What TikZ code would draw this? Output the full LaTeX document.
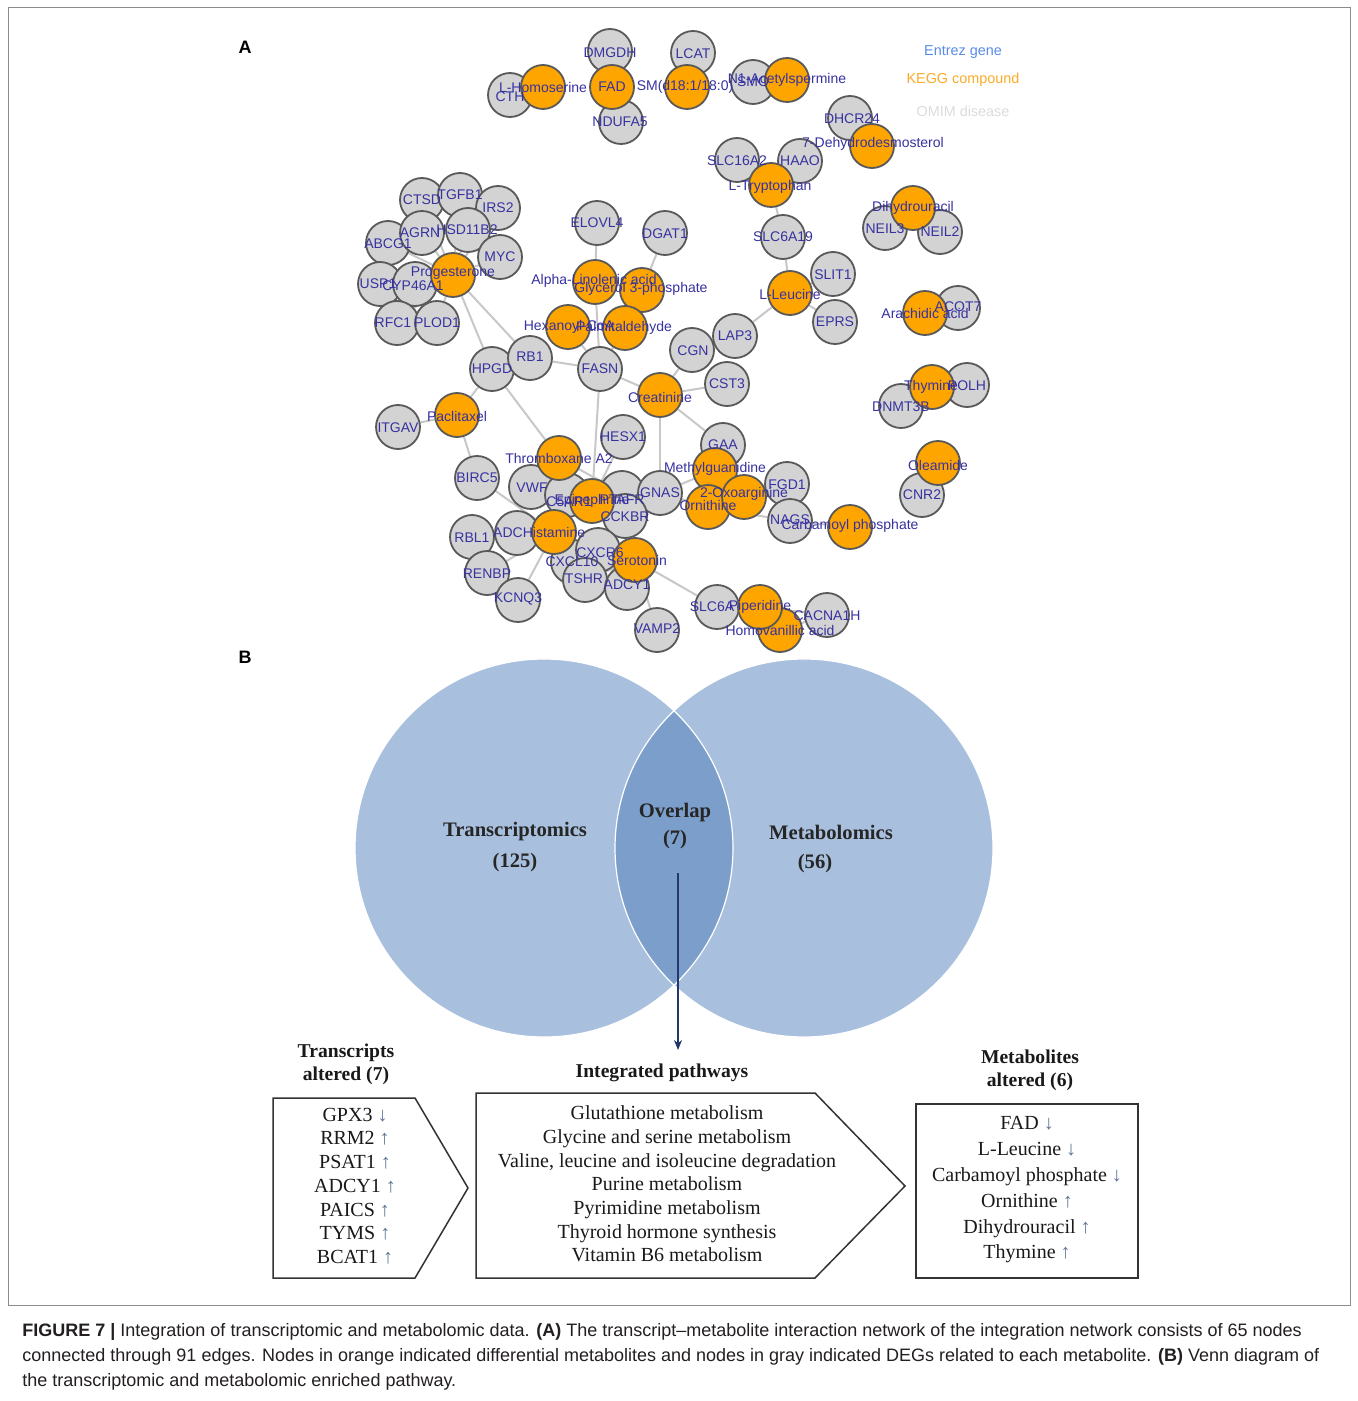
\documentclass[tikz,border=0pt]{standalone}
\usepackage{fontspec}
\setmainfont{Liberation Serif}
\newfontfamily\arialf{Liberation Sans}
\usetikzlibrary{arrows.meta,backgrounds}
\definecolor{lblc}{RGB}{55,50,160}
\definecolor{orangec}{RGB}{255,165,0}
\definecolor{grayc}{RGB}{211,211,211}
\definecolor{edgec}{RGB}{200,200,200}
\definecolor{vennc}{RGB}{168,192,222}
\definecolor{vennov}{RGB}{123,158,202}
\definecolor{arrowc}{RGB}{35,55,110}
\definecolor{arrc}{RGB}{95,115,150}
\definecolor{capc}{RGB}{35,31,32}
\definecolor{legblue}{RGB}{90,140,230}
\definecolor{legorange}{RGB}{250,172,40}
\definecolor{leggray}{RGB}{220,220,220}
\newcommand\upa{{\color{arrc}↑}}
\newcommand\dna{{\color{arrc}↓}}
\begin{document}
\begin{tikzpicture}[x=0.5pt,y=-0.5pt,
 gn/.style={circle,draw=black!65,fill=grayc,line width=0.9pt,minimum size=22pt,inner sep=0pt},
 on/.style={gn,fill=orangec},
 lbl/.style={font=\arialf\fontsize{7}{8}\selectfont,text=lblc,inner sep=0pt},
 edge/.style={draw=edgec,line width=1pt},
 vt/.style={font=\bfseries\fontsize{10.3}{12}\selectfont,text=black!85,inner sep=0pt},
 hd/.style={font=\bfseries\fontsize{9.8}{11.6}\selectfont,text=black!90,align=center,inner sep=0pt},
 bx/.style={draw=black!80,line width=0.75pt},
 lt/.style={font=\fontsize{10}{11.85}\selectfont,text=black!90,align=center,inner sep=0pt},
 captext/.style={font=\arialf\fontsize{9}{11}\selectfont,text=capc,anchor=west,inner sep=0pt},
 lg/.style={font=\arialf\fontsize{7.2}{8}\selectfont,inner sep=0pt},
 pl/.style={font=\arialf\bfseries\fontsize{9}{10}\selectfont,inner sep=0pt}
]
\useasboundingbox (0,0) rectangle (1358,1401);
\begin{scope}[on background layer]
\fill[white] (0,0) rectangle (1358,1401);
\end{scope}
% frame
\draw[black!45,line width=0.5pt] (8,8) rectangle (1350,1305);
\node[pl] (pa) at (245,47) {A};
\node[pl] (pb) at (245,657) {B};
% legend
\node[lg,text=legblue] (lg1) at (963,52) {Entrez gene};
\node[lg,text=legorange] (lg2) at (963,80) {KEGG compound};
\node[lg,text=leggray] (lg3) at (963,111) {OMIM disease};
% ---------- gray nodes ----------
\node[gn] (cth) at (510,95) {};
\node[gn] (dmgdh) at (610,51) {};
\node[gn] (ndufa5) at (621,122) {};
\node[gn] (lcat) at (693,53) {};
\node[gn] (smo) at (753,82) {};
\node[gn] (dhcr) at (850,118) {};
\node[gn] (slc16) at (737,160) {};
\node[gn] (haao) at (800,161) {};
\node[gn] (slc6a19) at (783,237) {};
\node[gn] (slit1) at (833,274) {};
\node[gn] (eprs) at (835,322) {};
\node[gn] (lap3) at (735,336) {};
\node[gn] (neil3) at (885,228) {};
\node[gn] (neil2) at (940,232) {};
\node[gn] (acot7) at (958,308) {};
\node[gn] (cgn) at (692,350) {};
\node[gn] (cst3) at (727,384) {};
\node[gn] (polh) at (967,385) {};
\node[gn] (dnmt) at (901,406) {};
\node[gn] (gaa) at (723,445) {};
\node[gn] (fgd1) at (787,484) {};
\node[gn] (nags) at (790,521) {};
\node[gn] (cnr2) at (922,495) {};
\node[gn] (ctsd) at (422,200) {};
\node[gn] (tgfb1) at (460,195) {};
\node[gn] (irs2) at (498,208) {};
\node[gn] (abcg1) at (388,243) {};
\node[gn] (agrn) at (422,233) {};
\node[gn] (hsd) at (468,230) {};
\node[gn] (myc) at (500,257) {};
\node[gn] (usp1) at (380,284) {};
\node[gn] (cyp) at (415,284) {};
\node[gn] (rfc1) at (397,323) {};
\node[gn] (plod1) at (437,323) {};
\node[gn] (elovl4) at (597,223) {};
\node[gn] (dgat1) at (665,233) {};
\node[gn] (hpgd) at (492,369) {};
\node[gn] (rb1) at (530,358) {};
\node[gn] (fasn) at (600,369) {};
\node[gn] (itgav) at (398,427) {};
\node[gn] (hesx1) at (623,437) {};
\node[gn] (birc5) at (477,478) {};
\node[gn] (vwf) at (531,487) {};
\node[gn] (c5ar1) at (567,495) {};
\node[gn] (ptafr) at (622,493) {};
\node[gn] (gnas) at (660,493) {};
\node[gn] (cckbr) at (625,516) {};
\node[gn] (adc) at (517,533) {};
\node[gn] (rbl1) at (472,537) {};
\node[gn] (renbp) at (487,573) {};
\node[gn] (kcnq3) at (518,600) {};
\node[gn] (cxcl10) at (573,562) {};
\node[gn] (cxcr6) at (598,550) {};
\node[gn] (tshr) at (585,580) {};
\node[gn] (adcy1) at (627,588) {};
\node[gn] (vamp2) at (657,630) {};
\node[gn] (slc6a) at (717,607) {};
\node[gn] (cacna) at (827,615) {};
% ---------- orange nodes ----------
\node[on] (lhom) at (543,87) {};
\node[on] (fad) at (612,87) {};
\node[on] (sm) at (687,87) {};
\node[on] (n1) at (787,80) {};
\node[on] (dhd) at (872,146) {};
\node[on] (trp) at (771,185) {};
\node[on] (dihyd) at (913,208) {};
\node[on] (prog) at (453,275) {};
\node[on] (glyc) at (642,290) {};
\node[on] (alpha) at (595,282) {};
\node[on] (leu) at (790,293) {};
\node[on] (arach) at (925,313) {};
\node[on] (hex) at (568,327) {};
\node[on] (palm) at (625,328) {};
\node[on] (creat) at (660,395) {};
\node[on] (thym) at (932,387) {};
\node[on] (pacl) at (457,415) {};
\node[on] (thromb) at (559,458) {};
\node[on] (olea) at (938,463) {};
\node[on] (mgu) at (715,470) {};
\node[on] (orn) at (708,507) {};
\node[on] (oxo) at (744,497) {};
\node[on] (epi) at (592,501) {};
\node[on] (hist) at (554,532) {};
\node[on] (carb) at (850,527) {};
\node[on] (sero) at (635,560) {};
\node[on] (hva) at (780,630) {};
\node[on] (pip) at (760,607) {};
% ---------- labels ----------
\node[lbl] (cth-t) at (510,97) {CTH};
\node[lbl] (dmgdh-t) at (610,53) {DMGDH};
\node[lbl] (ndufa5-t) at (620,122) {NDUFA5};
\node[lbl] (lcat-t) at (693,54) {LCAT};
\node[lbl] (smo-t) at (753,82) {SMO};
\node[lbl] (dhcr-t) at (852,119) {DHCR24};
\node[lbl] (slc16-t) at (737,161) {SLC16A2};
\node[lbl] (haao-t) at (800,161) {HAAO};
\node[lbl] (slc6a19-t) at (783,237) {SLC6A19};
\node[lbl] (slit1-t) at (833,275) {SLIT1};
\node[lbl] (eprs-t) at (835,322) {EPRS};
\node[lbl] (lap3-t) at (735,336) {LAP3};
\node[lbl] (neil3-t) at (885,229) {NEIL3};
\node[lbl] (neil2-t) at (940,232) {NEIL2};
\node[lbl] (acot7-t) at (958,307) {ACOT7};
\node[lbl] (cgn-t) at (693,351) {CGN};
\node[lbl] (cst3-t) at (727,384) {CST3};
\node[lbl] (polh-t) at (967,386) {POLH};
\node[lbl] (dnmt-t) at (901,407) {DNMT3B};
\node[lbl] (gaa-t) at (723,445) {GAA};
\node[lbl] (fgd1-t) at (787,485) {FGD1};
\node[lbl] (nags-t) at (790,520) {NAGS};
\node[lbl] (cnr2-t) at (922,495) {CNR2};
\node[lbl] (ctsd-t) at (422,200) {CTSD};
\node[lbl] (tgfb1-t) at (460,195) {TGFB1};
\node[lbl] (irs2-t) at (498,208) {IRS2};
\node[lbl] (abcg1-t) at (388,244) {ABCG1};
\node[lbl] (agrn-t) at (420,233) {AGRN};
\node[lbl] (hsd-t) at (467,230) {HSD11B2};
\node[lbl] (myc-t) at (500,257) {MYC};
\node[lbl] (usp1-t) at (378,284) {USP1};
\node[lbl] (cyp-t) at (413,286) {CYP46A1};
\node[lbl] (rfc1-t) at (393,323) {RFC1};
\node[lbl] (plod1-t) at (437,323) {PLOD1};
\node[lbl] (elovl4-t) at (597,223) {ELOVL4};
\node[lbl] (dgat1-t) at (665,234) {DGAT1};
\node[lbl] (hpgd-t) at (492,369) {HPGD};
\node[lbl] (rb1-t) at (530,357) {RB1};
\node[lbl] (fasn-t) at (600,369) {FASN};
\node[lbl] (itgav-t) at (398,428) {ITGAV};
\node[lbl] (hesx1-t) at (623,437) {HESX1};
\node[lbl] (birc5-t) at (477,478) {BIRC5};
\node[lbl] (vwf-t) at (532,488) {VWF};
\node[lbl] (c5ar1-t) at (569,502) {C5AR1};
\node[lbl] (ptafr-t) at (622,500) {PTAFR};
\node[lbl] (gnas-t) at (660,493) {GNAS};
\node[lbl] (cckbr-t) at (625,517) {CCKBR};
\node[lbl] (adc-t) at (508,533) {ADC};
\node[lbl] (rbl1-t) at (472,538) {RBL1};
\node[lbl] (renbp-t) at (487,574) {RENBP};
\node[lbl] (kcnq3-t) at (518,599) {KCNQ3};
\node[lbl] (cxcl10-t) at (572,562) {CXCL10};
\node[lbl] (cxcr6-t) at (600,553) {CXCR6};
\node[lbl] (tshr-t) at (584,579) {TSHR};
\node[lbl] (adcy1-t) at (627,585) {ADCY1};
\node[lbl] (vamp2-t) at (657,629) {VAMP2};
\node[lbl] (slc6a-t) at (712,607) {SLC6A};
\node[lbl] (cacna-t) at (827,616) {CACNA1H};
% orange labels
\node[lbl] (lhom-t) at (543,87) {L-Homoserine};
\node[lbl] (fad-t) at (612,87) {FAD};
\node[lbl] (sm-t) at (685,87) {SM(d18:1/18:0)};
\node[lbl] (n1-t) at (787,80) {N1-Acetylspermine};
\node[lbl] (dhd-t) at (873,144) {7-Dehydrodesmosterol};
\node[lbl] (trp-t) at (770,187) {L-Tryptophan};
\node[lbl] (dihyd-t) at (913,208) {Dihydrouracil};
\node[lbl] (prog-t) at (453,273) {Progesterone};
\node[lbl] (glyc-t) at (641,289) {Glycerol 3-phosphate};
\node[lbl] (alpha-t) at (594,281) {Alpha-Linolenic acid};
\node[lbl] (leu-t) at (790,294) {L-Leucine};
\node[lbl] (arach-t) at (925,313) {Arachidic acid};
\node[lbl] (hex-t) at (569,327) {Hexanoyl-CoA};
\node[lbl] (palm-t) at (624,328) {Palmitaldehyde};
\node[lbl] (creat-t) at (660,397) {Creatinine};
\node[lbl] (thym-t) at (931,387) {Thymine};
\node[lbl] (pacl-t) at (457,416) {Paclitaxel};
\node[lbl] (thromb-t) at (559,458) {Thromboxane A2};
\node[lbl] (olea-t) at (938,465) {Oleamide};
\node[lbl] (mgu-t) at (715,469) {Methylguanidine};
\node[lbl] (orn-t) at (708,505) {Ornithine};
\node[lbl] (oxo-t) at (744,494) {2-Oxoarginine};
\node[lbl] (epi-t) at (592,501) {Epinephrine};
\node[lbl] (hist-t) at (554,532) {Histamine};
\node[lbl] (carb-t) at (850,526) {Carbamoyl phosphate};
\node[lbl] (sero-t) at (637,560) {Serotonin};
\node[lbl] (pip-t) at (760,607) {Piperidine};
\node[lbl] (hva-t) at (780,630) {Homovanillic acid};
% ---------- edges ----------
\begin{scope}[on background layer]
\foreach \a/\b in {lhom/cth,fad/dmgdh,fad/ndufa5,sm/lcat,n1/smo,dhd/dhcr,trp/slc16,trp/haao,trp/slc6a19,
 leu/slc6a19,leu/slit1,leu/eprs,leu/lap3,dihyd/neil3,dihyd/neil2,arach/acot7,thym/polh,thym/dnmt,
 olea/cnr2,carb/nags,orn/nags,oxo/fgd1,mgu/gaa,mgu/gnas,orn/gnas,creat/gnas,creat/gaa,creat/cgn,
 creat/cst3,creat/fasn,fasn/rb1,fasn/hex,fasn/palm,fasn/alpha,fasn/epi,alpha/elovl4,glyc/dgat1,
 prog/hpgd,prog/rb1,prog/agrn,prog/abcg1,prog/myc,prog/hsd,prog/cyp,prog/plod1,prog/rfc1,prog/usp1,
 prog/ctsd,prog/tgfb1,prog/irs2,hpgd/pacl,hpgd/thromb,pacl/itgav,pacl/birc5,thromb/vwf,thromb/ptafr,
 thromb/epi,thromb/c5ar1,hist/birc5,hist/adc,hist/rbl1,hist/renbp,hist/kcnq3,hist/cxcl10,hist/c5ar1,
 epi/c5ar1,epi/ptafr,epi/cckbr,sero/cxcr6,sero/tshr,sero/adcy1,sero/cckbr,sero/slc6a,sero/vamp2,
 hesx1/epi,pip/slc6a,pip/cacna,hva/cacna}
 {\draw[edge] (\a) -- (\b);}
\end{scope}
% ---------- Venn ----------
\node[circle,fill=vennc,minimum size=189pt,inner sep=0pt] (vl) at (544,848) {};
\node[circle,fill=vennc,minimum size=189pt,inner sep=0pt] (vr) at (804,848) {};
\begin{scope}
\clip (544,848) circle[radius=94.5pt];
\fill[vennov] (804,848) circle[radius=94.5pt];
\end{scope}
\draw[white,line width=0.6pt] (544,848) circle[radius=94.5pt];
\draw[white,line width=0.6pt] (804,848) circle[radius=94.5pt];
\node[vt] (v1) at (515,832) {Transcriptomics};
\node[vt] (v2) at (515,863) {(125)};
\node[vt] (v3) at (675,813) {Overlap};
\node[vt] (v4) at (675,840) {(7)};
\node[vt] (v5) at (831,832) {Metabolomics};
\node[vt] (v6) at (815,864) {(56)};
\coordinate (as) at (678,873);
\coordinate (ae) at (678,1050);
\draw[arrowc,line width=0.6pt,-{Stealth[length=5pt,width=4pt]}] (as) -- (ae);
% ---------- bottom boxes ----------
\node[hd] (h1) at (346,1064) {Transcripts\\altered (7)};
\node[hd] (h2) at (662,1073) {Integrated pathways};
\node[hd] (h3) at (1030,1070) {Metabolites\\altered (6)};
\draw[bx] (273,1098) -- (415,1098) -- (468,1188) -- (415,1278) -- (273,1278) -- cycle;
\draw[bx] (476,1093) -- (815,1093) -- (905,1186) -- (815,1278) -- (476,1278) -- cycle;
\draw[bx] (916,1104) rectangle (1138,1278);
\node[lt] (l1) at (355,1186) {GPX3 \dna\\RRM2 \upa\\PSAT1 \upa\\ADCY1 \upa\\PAICS \upa\\TYMS \upa\\BCAT1 \upa};
\node[lt] (l2) at (667,1184) {Glutathione metabolism\\Glycine and serine metabolism\\Valine, leucine and isoleucine degradation\\Purine metabolism\\Pyrimidine metabolism\\Thyroid hormone synthesis\\Vitamin B6 metabolism};
\node[lt,font=\fontsize{10}{12.9}\selectfont] (l3) at (1027,1190) {FAD \dna\\L-Leucine \dna\\Carbamoyl phosphate \dna\\Ornithine \upa\\Dihydrouracil \upa\\Thymine \upa};
% ---------- caption ----------
\node[captext] (c1) at (22,1332) {\textbf{FIGURE 7 |} Integration of transcriptomic and metabolomic data. \textbf{(A)} The transcript–metabolite interaction network of the integration network consists of 65 nodes};
\node[captext] (c2) at (22,1357) {connected through 91 edges. Nodes in orange indicated differential metabolites and nodes in gray indicated DEGs related to each metabolite. \textbf{(B)} Venn diagram of};
\node[captext] (c3) at (22,1382) {the transcriptomic and metabolomic enriched pathway.};
\end{tikzpicture}
\end{document}
